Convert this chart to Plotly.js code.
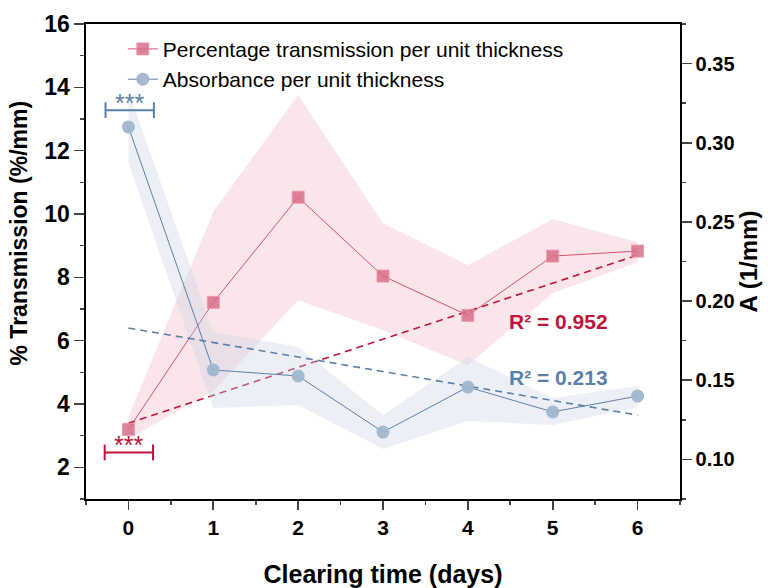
<!DOCTYPE html>
<html><head><meta charset="utf-8">
<script src="https://cdn.plot.ly/plotly-3.0.1.min.js"></script>
<style>body{margin:0;background:#fff}#c{width:769px;height:588px}</style>
</head><body><div id="c"></div>
<script>
const days = [0,1,2,3,4,5,6];
const transmission = [3.2, 7.21, 10.53, 8.04, 6.8, 8.67, 8.83];
const transUpper = [3.6, 10.07, 13.76, 9.71, 8.38, 9.84, 9.11];
const transLower = [2.9, 4.4, 7.28, 6.33, 5.22, 7.5, 8.48];
const absorbance = [0.310, 0.1565, 0.1527, 0.1173, 0.1457, 0.130, 0.140];
const absUpper = [0.333, 0.1805, 0.171, 0.128, 0.1647, 0.1388, 0.1464];
const absLower = [0.287, 0.1325, 0.1344, 0.1066, 0.1243, 0.1217, 0.133];
const trendX = [0, 6];
const trendTrans = [3.39, 8.70];
const trendAbs = [0.183, 0.128];
const r2Trans = "R² = 0.952";
const r2Abs = "R² = 0.213";

const RED = "#c0143c", RED_L = "#d7506d", RED_M = "rgba(214,110,135,0.85)";
const BLUE = "#5a80aa", BLUE_M = "rgba(160,182,206,0.95)";
const FAM = 'Liberation Sans, Arial, sans-serif';
const band = (up, lo) => ({x: days.concat(days.slice().reverse()), y: up.concat(lo.slice().reverse())});

const bT = band(transUpper, transLower), bA = band(absUpper, absLower);
const traces = [
  {x: bA.x, y: bA.y, yaxis: 'y2', fill: 'toself', fillcolor: 'rgba(200,212,228,0.35)', line: {width: 0}, mode: 'lines', showlegend: false, hoverinfo: 'skip'},
  {x: bT.x, y: bT.y, fill: 'toself', fillcolor: 'rgba(235,160,178,0.27)', line: {width: 0}, mode: 'lines', showlegend: false, hoverinfo: 'skip'},
  {x: trendX, y: trendTrans, mode: 'lines', line: {color: RED, width: 1.6, dash: '7px,5px'}, showlegend: false},
  {x: trendX, y: trendAbs, yaxis: 'y2', mode: 'lines', line: {color: BLUE, width: 1.6, dash: '7px,5px'}, showlegend: false},
  {x: days, y: transmission, name: 'Percentage transmission per unit thickness', mode: 'lines+markers',
   line: {color: RED_L, width: 1}, marker: {symbol: 'square', size: 12, color: RED_M, line: {color: 'rgba(235,150,170,0.9)', width: 1}}},
  {x: days, y: absorbance, yaxis: 'y2', name: 'Absorbance per unit thickness', mode: 'lines+markers',
   line: {color: BLUE, width: 1}, marker: {symbol: 'circle', size: 13, color: BLUE_M, line: {width: 0}}}
];

const tf = s => ({family: FAM, size: s, color: '#000', weight: 'bold'});

const layout = {
  width: 769, height: 588,
  margin: {l: 86, r: 89, t: 24, b: 89},
  paper_bgcolor: '#fff', plot_bgcolor: '#fff',
  showlegend: true,
  legend: {x: 0.062, y: 0.99, xanchor: 'left', yanchor: 'top', bgcolor: 'rgba(0,0,0,0)',
           font: {family: FAM, size: 21, color: '#000'}, tracegroupgap: 0},
  xaxis: {range: [-0.5, 6.5], tickvals: days, ticktext: days.map(String), ticks: 'outside', ticklen: 9, tickwidth: 1.6,
          showline: true, linewidth: 1.6, linecolor: '#000', mirror: true, showgrid: false, zeroline: false,
          tickfont: tf(21), title: {text: 'Clearing time (days)', font: tf(25), standoff: 29},
          minor: {dtick: 0.5, tick0: 0.5, ticks: 'outside', ticklen: 4, tickwidth: 1.6, showgrid: false}},
  yaxis: {range: [1, 16], dtick: 2, tick0: 0, ticks: 'outside', ticklen: 10, tickwidth: 1.6,
          showline: true, linewidth: 1.6, linecolor: '#000', showgrid: false, zeroline: false,
          tickfont: tf(23), title: {text: ''},
          minor: {dtick: 1, tick0: 1, ticks: 'outside', ticklen: 4, tickwidth: 1.6, showgrid: false}},
  yaxis2: {overlaying: 'y', side: 'right', range: [0.075, 0.375], dtick: 0.05, tick0: 0.1, tickformat: '.2f',
           ticks: 'outside', ticklen: 10, tickwidth: 1.6, showline: true, linewidth: 1.6, linecolor: '#000',
           showgrid: false, zeroline: false, tickfont: tf(20),
           title: {text: 'A (1/mm)', font: tf(24), standoff: 6},
           minor: {dtick: 0.05, tick0: 0.075, ticks: 'outside', ticklen: 4, tickwidth: 1.6, showgrid: false}},
  shapes: [
    {type: 'line', xref: 'x', yref: 'y', x0: -0.27, x1: 0.3, y0: 13.28, y1: 13.28, line: {color: BLUE, width: 2}},
    {type: 'line', xref: 'x', yref: 'y', x0: -0.27, x1: -0.27, y0: 13.03, y1: 13.53, line: {color: BLUE, width: 2}},
    {type: 'line', xref: 'x', yref: 'y', x0: 0.3, x1: 0.3, y0: 13.03, y1: 13.53, line: {color: BLUE, width: 2}},
    {type: 'line', xref: 'x', yref: 'y', x0: -0.28, x1: 0.29, y0: 2.47, y1: 2.47, line: {color: RED, width: 2}},
    {type: 'line', xref: 'x', yref: 'y', x0: -0.28, x1: -0.28, y0: 2.22, y1: 2.72, line: {color: RED, width: 2}},
    {type: 'line', xref: 'x', yref: 'y', x0: 0.29, x1: 0.29, y0: 2.22, y1: 2.72, line: {color: RED, width: 2}}
  ],
  annotations: [
    {x: -0.112, y: 0.56, xref: 'paper', yref: 'paper', text: '% Transmission (%/mm)', textangle: -90, showarrow: false,
     xanchor: 'center', yanchor: 'middle', font: tf(23)},
    {x: 0.01, y: 13.28, xref: 'x', yref: 'y', text: '***', showarrow: false, yanchor: 'bottom', yshift: -9,
     font: {family: FAM, size: 25, color: BLUE}},
    {x: 0.0, y: 2.47, xref: 'x', yref: 'y', text: '***', showarrow: false, yanchor: 'bottom', yshift: -9,
     font: {family: FAM, size: 25, color: RED}},
    {x: 5.07, y: 6.6, xref: 'x', yref: 'y', text: r2Trans, showarrow: false, xanchor: 'center',
     font: {family: FAM, size: 21, color: RED, weight: 'bold'}},
    {x: 5.07, y: 4.85, xref: 'x', yref: 'y', text: r2Abs, showarrow: false, xanchor: 'center',
     font: {family: FAM, size: 21, color: BLUE, weight: 'bold'}}
  ]
};
Plotly.newPlot('c', traces, layout, {displayModeBar: false, staticPlot: true});
</script></body></html>
